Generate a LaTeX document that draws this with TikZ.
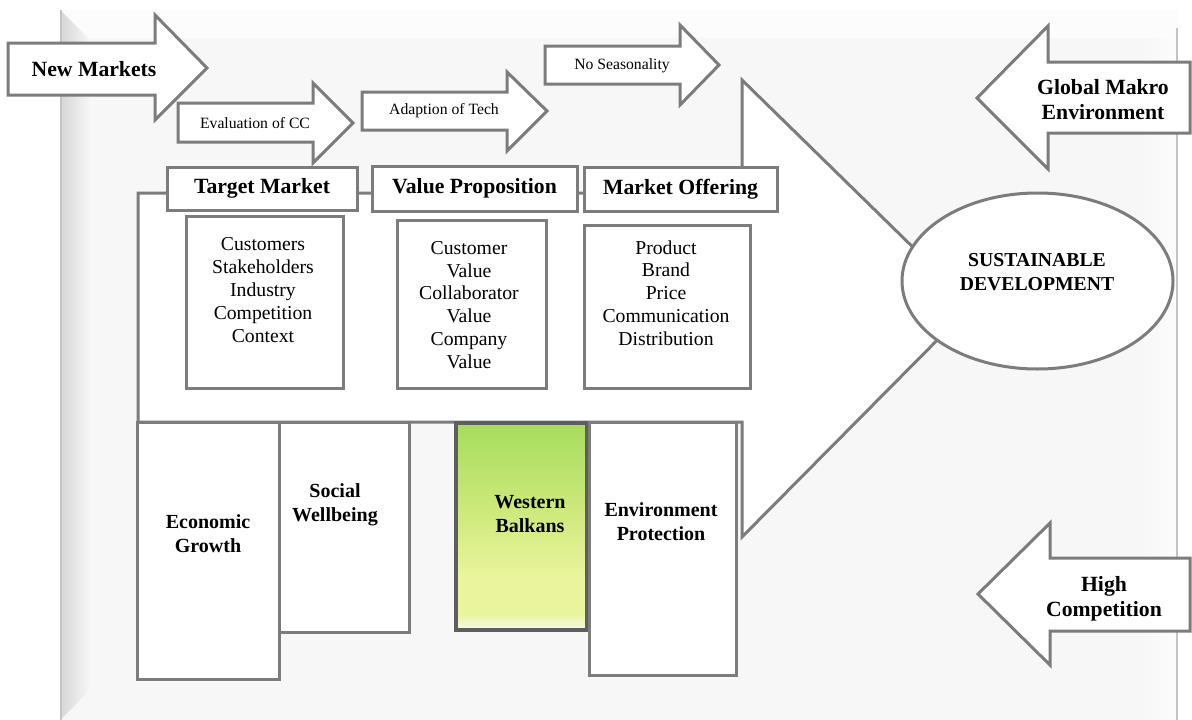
\documentclass[tikz,border=0pt]{standalone}
\usepackage{fontspec}
\setmainfont{Liberation Serif}
\usetikzlibrary{shapes.geometric}
\definecolor{lc}{HTML}{7C7C7C}
\definecolor{panel}{HTML}{F7F7F7}
\definecolor{panelTop}{HTML}{FCFCFC}
\definecolor{shadowc}{HTML}{D6D6D6}
\definecolor{edgec}{HTML}{C4C4C4}
\definecolor{wbT}{HTML}{A6DD5E}
\definecolor{wbM}{HTML}{CBE879}
\definecolor{wbY}{HTML}{EAF49C}
\definecolor{wbB}{HTML}{F6FAEA}
\definecolor{wbline}{HTML}{5E5E5E}
\pgfdeclareverticalshading{wbshade}{100bp}{color(0bp)=(wbB); color(25bp)=(wbB); color(29bp)=(wbY); color(38bp)=(wbY); color(55bp)=(wbM); color(75bp)=(wbT); color(100bp)=(wbT)}
\begin{document}
\begin{tikzpicture}[x=1pt,y=-1pt,line join=miter]
\tikzset{
  shp/.style={draw=lc, line width=3pt, fill=white},
  boxn/.style={draw=lc, line width=3pt, fill=white, rectangle, inner sep=0pt},
  hd/.style={font=\fontsize{21.7pt}{25pt}\selectfont\bfseries, align=center, inner sep=0pt},
  bl/.style={font=\fontsize{20pt}{24pt}\selectfont\bfseries, align=center, inner sep=0pt},
  sm/.style={font=\fontsize{15.7pt}{19pt}\selectfont, align=center, inner sep=0pt},
  lst/.style={font=\fontsize{19.7pt}{22.8pt}\selectfont, align=center, inner sep=0pt},
}
\useasboundingbox (0,0) rectangle (1192,720);
% background panel
\fill[white] (0,0) rectangle (1192,720);
\fill[panel] (60,10) rectangle (1178,720);
\fill[panelTop] (60,10) rectangle (1178,38);
\shade[left color=shadowc, right color=panel] (60,10) -- (90,40) -- (90,690) -- (60,720) -- cycle;
\shade[left color=panel, right color=white!60!panel] (1140,38) rectangle (1176,720);
\draw[edgec, line width=1.5pt] (61,10) -- (61,720);
\draw[edgec, line width=2pt] (1177,28) -- (1177,720);

% big arrow (white filled)
\draw[shp] (138,193) -- (742,193) -- (742,80) -- (972,305) -- (742,537) -- (742,422) -- (138,422) -- cycle;

% ellipse
\node[ellipse, draw=lc, line width=3pt, fill=white, minimum width=271pt, minimum height=176pt, inner sep=0pt] (sd) at (1037.5,281) {};
\node[bl, font=\fontsize{19.7pt}{24pt}\selectfont\bfseries] (sdt) at (1037,272) {SUSTAINABLE\\DEVELOPMENT};

% top-left arrows
\draw[shp] (8,43) -- (155,43) -- (155,15) -- (207,68) -- (155,120) -- (155,95) -- (8,95) -- cycle;
\node[hd] (nm) at (94,69) {New Markets};
\draw[shp] (178,103) -- (313,103) -- (313,83) -- (353,123) -- (313,163) -- (313,142) -- (178,142) -- cycle;
\node[sm] (ec) at (255,123) {Evaluation of CC};
\draw[shp] (362,92) -- (507,92) -- (507,72) -- (547,111) -- (507,151) -- (507,130) -- (362,130) -- cycle;
\node[sm] (at) at (444,111) {Adaption of Tech};
\draw[shp] (545,46) -- (680,46) -- (680,25) -- (719,65) -- (680,105) -- (680,84) -- (545,84) -- cycle;
\node[sm] (ns) at (622,66) {No Seasonality};

% right arrows
\draw[shp] (1190,62) -- (1048,62) -- (1048,26) -- (977,98) -- (1048,169) -- (1048,133) -- (1190,133) -- cycle;
\node[hd] (gm) at (1103,100) {Global Makro\\Environment};
\draw[shp] (1190,558) -- (1050,558) -- (1050,523) -- (978,594) -- (1050,665) -- (1050,631) -- (1190,631) -- cycle;
\node[hd] (hc) at (1104,599) {High\\Competition};

% header boxes
\node[boxn, hd, minimum width=190pt, minimum height=43pt] (tm) at (262,188.5) {Target Market};
\node[boxn, hd, minimum width=205pt, minimum height=45pt] (vp) at (474.5,188.5) {Value Proposition};
\node[boxn, hd, minimum width=193pt, minimum height=44pt] (mo) at (680.5,189) {Market Offering};

% list boxes
\node[boxn, minimum width=157pt, minimum height=172pt] (b1) at (264.5,302) {};
\node[lst] (b1t) at (263,290) {Customers\\Stakeholders\\Industry\\Competition\\Context};
\node[boxn, minimum width=149pt, minimum height=168pt] (b2) at (471.5,304) {};
\node[lst] (b2t) at (469,305) {Customer\\Value\\Collaborator\\Value\\Company\\Value};
\node[boxn, minimum width=166pt, minimum height=163pt] (b3) at (667,306.5) {};
\node[lst] (b3t) at (666,293) {Product\\Brand\\Price\\Communication\\Distribution};

% bottom boxes
\node[boxn, minimum width=142pt, minimum height=257pt] (eg) at (208,550.5) {};
\node[bl] (egt) at (208,534) {Economic\\Growth};
\node[boxn, minimum width=130pt, minimum height=210pt] (sw) at (344,527) {};
\node[bl] (swt) at (335,505) {Social\\Wellbeing};
\path[shading=wbshade, draw=wbline, line width=3.5pt] (456,423) rectangle (587,630);
\node[bl] (wbt) at (530,514) {Western\\Balkans};
\node[boxn, minimum width=147pt, minimum height=253pt] (ep) at (662.5,548.5) {};
\node[bl] (ept) at (661,522) {Environment\\Protection};
\end{tikzpicture}
\end{document}
